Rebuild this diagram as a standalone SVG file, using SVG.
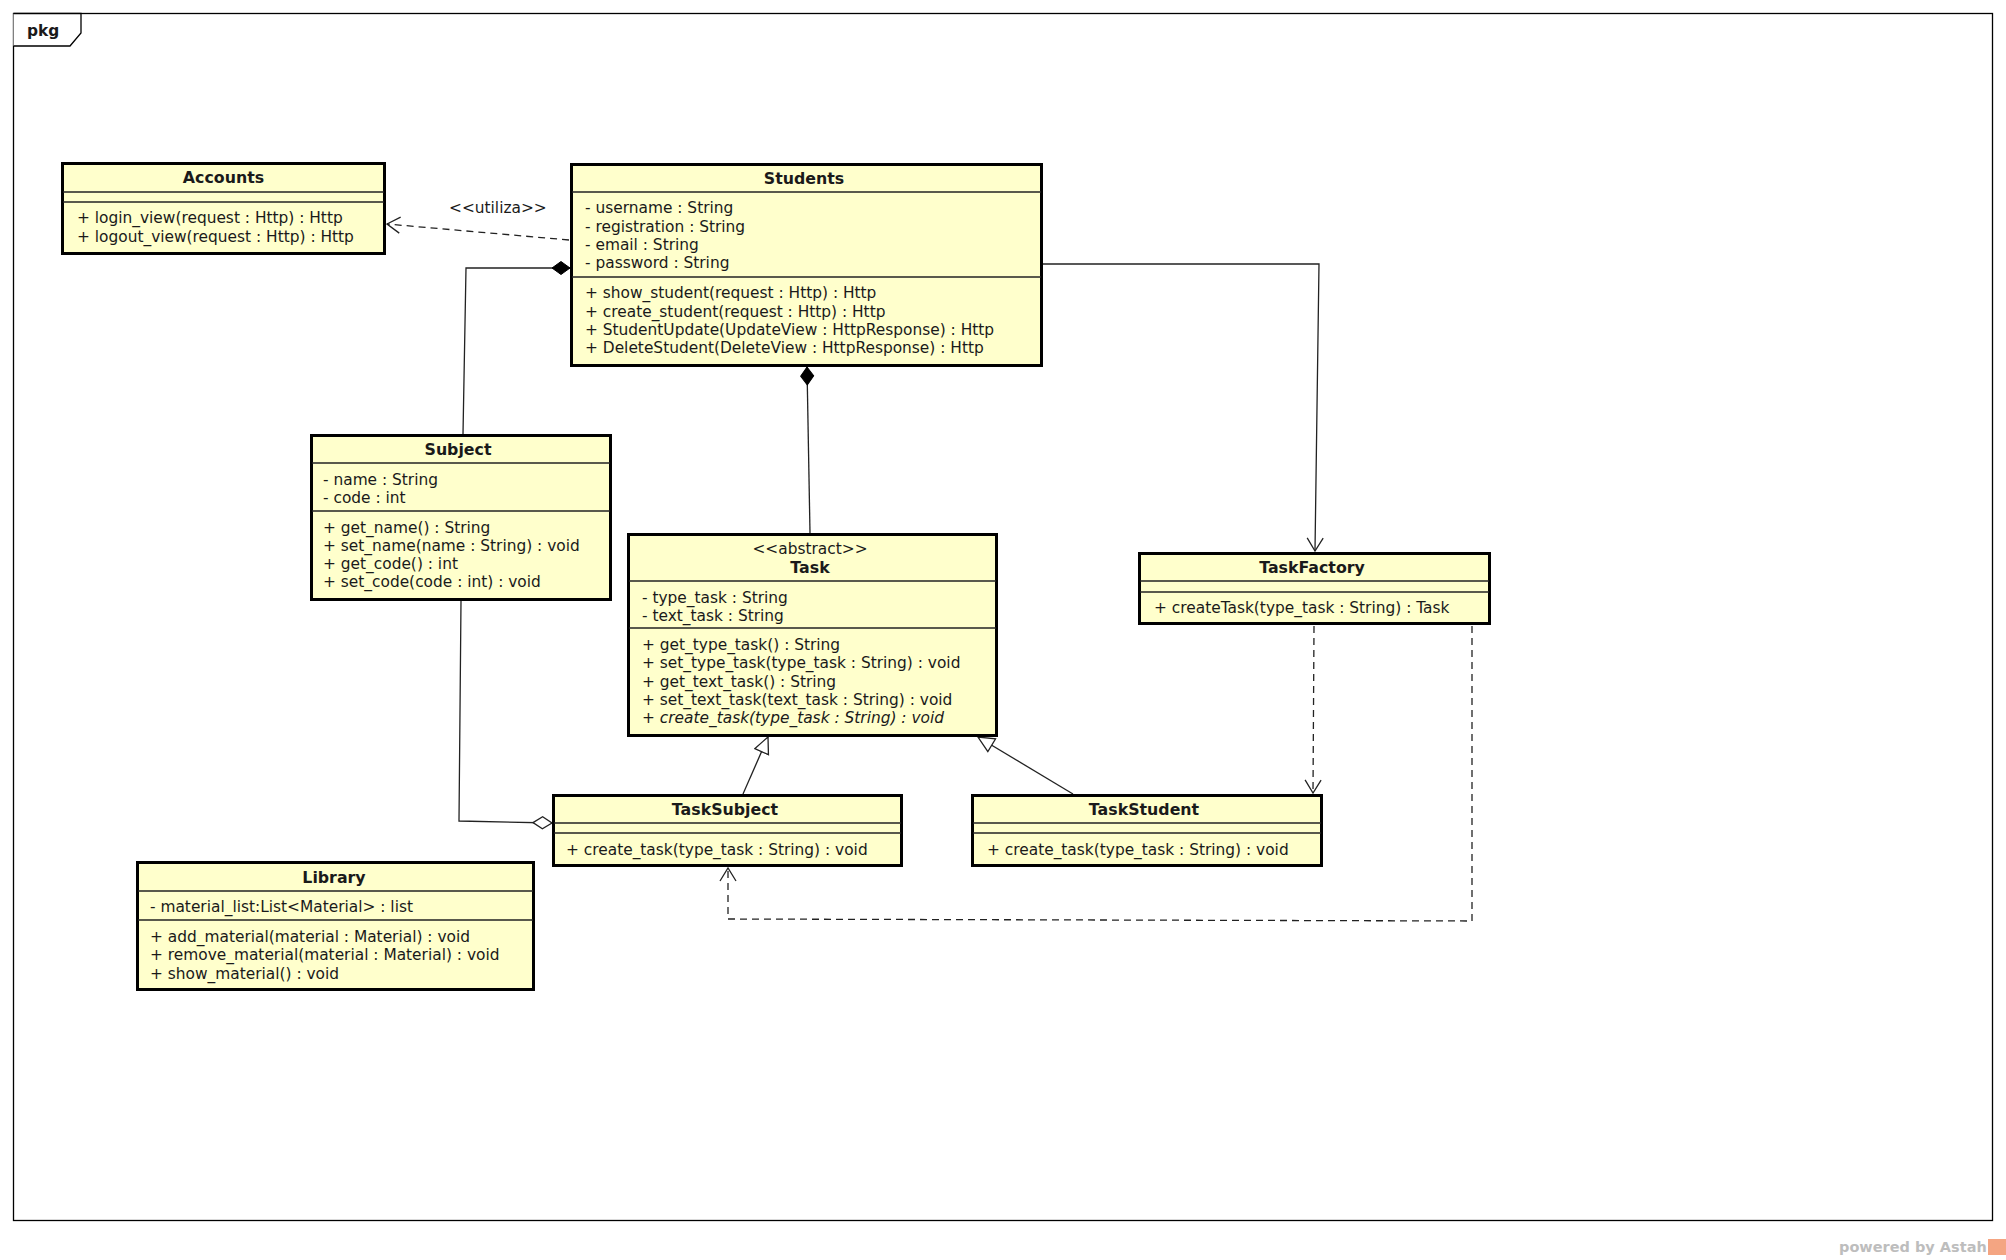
<svg xmlns="http://www.w3.org/2000/svg" width="2006" height="1260" viewBox="0 0 2006 1260">
<style>
.box{fill:#ffffcc;stroke:#000;stroke-width:3}
.sep{stroke:#222;stroke-width:1.3}
.t{font-family:"DejaVu Sans",sans-serif;font-size:15.4px;fill:#1a1a1a}
.b{font-weight:bold;text-anchor:middle;font-size:15.8px}
.c{text-anchor:middle}
.i{font-style:italic}
.ln{fill:none;stroke:#222;stroke-width:1.3}
.dash{stroke-dasharray:7,5}
</style>
<defs>
<marker id="open" markerUnits="userSpaceOnUse" markerWidth="16" markerHeight="18" refX="14" refY="9" orient="auto">
<path d="M1,1 L14,9 L1,17" fill="none" stroke="#222" stroke-width="1.3"/>
</marker>
<marker id="tri" markerUnits="userSpaceOnUse" markerWidth="19" markerHeight="18" refX="17" refY="8.5" orient="auto">
<path d="M1,1 L17,8.5 L1,16 Z" fill="#fff" stroke="#222" stroke-width="1.3"/>
</marker>
<marker id="dfill" markerUnits="userSpaceOnUse" markerWidth="20" markerHeight="15" refX="19" refY="7" orient="auto">
<path d="M1,7 L10,0.5 L19,7 L10,13.5 Z" fill="#000" stroke="#000" stroke-width="1"/>
</marker>
<marker id="dopen" markerUnits="userSpaceOnUse" markerWidth="22" markerHeight="15" refX="20" refY="7" orient="auto">
<path d="M1,7 L10.5,1 L20,7 L10.5,13 Z" fill="#fff" stroke="#222" stroke-width="1.3"/>
</marker>
</defs>
<rect x="0" y="0" width="2006" height="1260" fill="#fff"/>
<g id="frame">
<rect x="13.5" y="13.5" width="1979" height="1207" fill="none" stroke="#000" stroke-width="1.3"/>
<path d="M13.5,13.5 H81 V33 L70,46 H13.5" fill="#fff" stroke="#000" stroke-width="1.3"/>
<text x="27" y="36" class="t" font-weight="bold">pkg</text>
</g>
<g id="connectors">
<path class="ln" d="M463,434 L466,268 L570,268" marker-end="url(#dfill)"/>
<path class="ln" d="M810,533 L807,367" marker-end="url(#dfill)"/>
<path class="ln dash" d="M569,240 L387,224" marker-end="url(#open)"/>
<path class="ln" d="M1043,264 L1319,264 L1315,551" marker-end="url(#open)"/>
<path class="ln" d="M461,601 L459,821 L552,823" marker-end="url(#dopen)"/>
<path class="ln" d="M743,794 L768,737" marker-end="url(#tri)"/>
<path class="ln" d="M1073,794 L978,737" marker-end="url(#tri)"/>
<path class="ln dash" d="M1314,626 L1313,793" marker-end="url(#open)"/>
<path class="ln dash" d="M1472,626 L1472,921 L728,919 L728,868" marker-end="url(#open)"/>
<text x="449" y="213" class="t">&lt;&lt;utiliza&gt;&gt;</text>
</g>
<g id="Accounts">
<rect class="box" x="62.5" y="163.5" width="322" height="90"/>
<line class="sep" x1="63" y1="192" x2="384" y2="192"/>
<line class="sep" x1="63" y1="202" x2="384" y2="202"/>
<text class="t b" x="223.5" y="183">Accounts</text>
<text class="t" x="77" y="223">+ login_view(request : Http) : Http</text>
<text class="t" x="77" y="242">+ logout_view(request : Http) : Http</text>
</g>
<g id="Students">
<rect class="box" x="571.5" y="164.5" width="470" height="201"/>
<line class="sep" x1="572" y1="192" x2="1041" y2="192"/>
<line class="sep" x1="572" y1="277" x2="1041" y2="277"/>
<text class="t b" x="804" y="184">Students</text>
<text class="t" x="585" y="213">- username : String</text>
<text class="t" x="585" y="232">- registration : String</text>
<text class="t" x="585" y="250">- email : String</text>
<text class="t" x="585" y="268">- password : String</text>
<text class="t" x="585" y="298">+ show_student(request : Http) : Http</text>
<text class="t" x="585" y="317">+ create_student(request : Http) : Http</text>
<text class="t" x="585" y="335">+ StudentUpdate(UpdateView : HttpResponse) : Http</text>
<text class="t" x="585" y="353">+ DeleteStudent(DeleteView : HttpResponse) : Http</text>
</g>
<g id="Subject">
<rect class="box" x="311.5" y="435.5" width="299" height="164"/>
<line class="sep" x1="312" y1="463" x2="610" y2="463"/>
<line class="sep" x1="312" y1="511" x2="610" y2="511"/>
<text class="t b" x="458" y="455">Subject</text>
<text class="t" x="323" y="485">- name : String</text>
<text class="t" x="323" y="503">- code : int</text>
<text class="t" x="323" y="533">+ get_name() : String</text>
<text class="t" x="323" y="551">+ set_name(name : String) : void</text>
<text class="t" x="323" y="569">+ get_code() : int</text>
<text class="t" x="323" y="587">+ set_code(code : int) : void</text>
</g>
<g id="Task">
<rect class="box" x="628.5" y="534.5" width="368" height="201"/>
<line class="sep" x1="629" y1="581" x2="996" y2="581"/>
<line class="sep" x1="629" y1="628" x2="996" y2="628"/>
<text class="t c" x="810" y="554">&lt;&lt;abstract&gt;&gt;</text>
<text class="t b" x="810" y="573">Task</text>
<text class="t" x="642" y="603">- type_task : String</text>
<text class="t" x="642" y="621">- text_task : String</text>
<text class="t" x="642" y="650">+ get_type_task() : String</text>
<text class="t" x="642" y="668">+ set_type_task(type_task : String) : void</text>
<text class="t" x="642" y="687">+ get_text_task() : String</text>
<text class="t" x="642" y="705">+ set_text_task(text_task : String) : void</text>
<text class="t i" x="642" y="723">+ create_task(type_task : String) : void</text>
</g>
<g id="TaskFactory">
<rect class="box" x="1139.5" y="553.5" width="350" height="70"/>
<line class="sep" x1="1140" y1="581" x2="1489" y2="581"/>
<line class="sep" x1="1140" y1="592" x2="1489" y2="592"/>
<text class="t b" x="1312" y="573">TaskFactory</text>
<text class="t" x="1154" y="613">+ createTask(type_task : String) : Task</text>
</g>
<g id="TaskSubject">
<rect class="box" x="553.5" y="795.5" width="348" height="70"/>
<line class="sep" x1="554" y1="823" x2="901" y2="823"/>
<line class="sep" x1="554" y1="833" x2="901" y2="833"/>
<text class="t b" x="725" y="815">TaskSubject</text>
<text class="t" x="566" y="855">+ create_task(type_task : String) : void</text>
</g>
<g id="TaskStudent">
<rect class="box" x="972.5" y="795.5" width="349" height="70"/>
<line class="sep" x1="973" y1="823" x2="1321" y2="823"/>
<line class="sep" x1="973" y1="833" x2="1321" y2="833"/>
<text class="t b" x="1144" y="815">TaskStudent</text>
<text class="t" x="987" y="855">+ create_task(type_task : String) : void</text>
</g>
<g id="Library">
<rect class="box" x="137.5" y="862.5" width="396" height="127"/>
<line class="sep" x1="138" y1="891" x2="533" y2="891"/>
<line class="sep" x1="138" y1="920" x2="533" y2="920"/>
<text class="t b" x="334" y="883">Library</text>
<text class="t" x="150" y="912">- material_list:List&lt;Material&gt; : list</text>
<text class="t" x="150" y="942">+ add_material(material : Material) : void</text>
<text class="t" x="150" y="960">+ remove_material(material : Material) : void</text>
<text class="t" x="150" y="979">+ show_material() : void</text>
</g>
<g id="watermark">
<text x="1839" y="1252" font-family="DejaVu Sans, sans-serif" font-size="14.5" font-weight="bold" fill="#bdbdbd">powered by Astah</text>
<rect x="1988" y="1239" width="18" height="16" fill="#f4a582"/>
</g>
</svg>
